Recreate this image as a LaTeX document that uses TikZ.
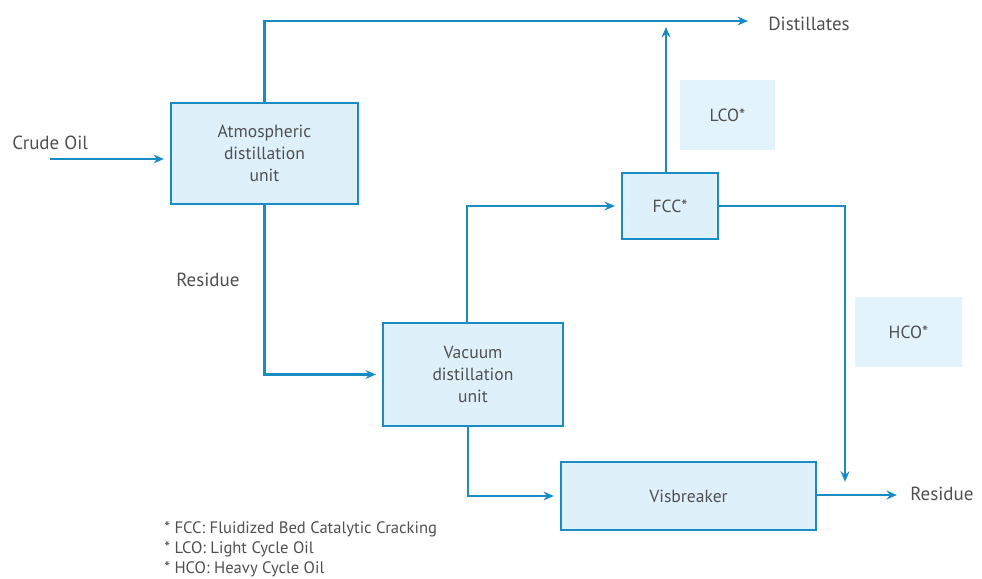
\documentclass[tikz,border=0pt]{standalone}
\usepackage{fontspec}
\setmainfont{PT Sans}
\usepackage{tikz}
\usetikzlibrary{arrows.meta}

\definecolor{flowblue}{RGB}{25,140,195}
\definecolor{boxfill}{RGB}{222,241,251}
\definecolor{softfill}{RGB}{226,243,252}
\definecolor{textgray}{RGB}{80,80,80}

\tikzset{
    unit/.style={draw=flowblue, line width=1.5pt, fill=boxfill,
        text=textgray, align=center, inner sep=0pt,
        font=\fontsize{12.5}{15.5}\selectfont},
    tag/.style={fill=softfill, text=textgray, inner sep=0pt,
        font=\fontsize{12.5}{15.5}\selectfont},
    label/.style={text=textgray, inner sep=0pt,
        font=\fontsize{13.5}{16}\selectfont},
    flow/.style={draw=flowblue, line width=1.5pt,
        -{Stealth[length=0.26cm,width=0.22cm]}, shorten >=0.15cm},
}

\begin{document}
\begin{tikzpicture}[x=0.025cm, y=-0.025cm]
    \useasboundingbox (0,0) rectangle (982,579);

    \node[unit, minimum width=4.675cm, minimum height=2.525cm]
        (atm) at (264.5,153.5) {Atmospheric\\distillation\\unit};
    \node[unit, minimum width=4.5cm, minimum height=2.575cm]
        (vac) at (473,374.5) {Vacuum\\distillation\\unit};
    \node[unit, minimum width=2.4cm, minimum height=1.65cm]
        (fcc) at (670,206) {FCC*};
    \node[unit, minimum width=6.375cm, minimum height=1.7cm]
        (visb) at (688.5,496) {Visbreaker};

    \node[tag, minimum width=2.375cm, minimum height=1.75cm]
        (lco) at (727.5,115) {LCO*};
    \node[tag, minimum width=2.675cm, minimum height=1.75cm]
        (hco) at (908.5,332) {HCO*};

    \node[label, anchor=west] (crude) at (12,143) {Crude Oil};
    \node[label, anchor=west] (dist) at (768,24) {Distillates};
    \node[label, anchor=west] (res) at (176,280) {Residue};
    \node[label, anchor=west] (resout) at (910,494) {Residue};

    \node[text=textgray, anchor=north west, align=left, inner sep=0pt,
        font=\fontsize{11.8}{14.4}\selectfont] (notes) at (164,521)
        {* FCC: Fluidized Bed Catalytic Cracking\\
         * LCO: Light Cycle Oil\\
         * HCO: Heavy Cycle Oil};

    \coordinate (crudein) at (50,159);
    \coordinate (distend) at (754,21);
    \coordinate (merge) at (845,495);
    \coordinate (resend) at (903,495);

    \draw[flow] (crudein) -- (atm.west |- crudein);
    \draw[flow] (atm.north) |- (distend);
    \draw[flow] (atm.south) |- (vac.west);
    \draw[flow] ([xshift=-0.15cm]vac.north) |- (fcc.west);
    \draw[flow] ([xshift=-0.1cm]fcc.north) -- ([xshift=-0.1cm]fcc.north |- distend);
    \draw[flow, shorten >=0.33cm] (fcc.east) -| (merge);
    \draw[flow] ([xshift=-0.125cm]vac.south) |- (visb.west);
    \draw[flow] (visb.east |- merge) -- (resend);
\end{tikzpicture}
\end{document}
